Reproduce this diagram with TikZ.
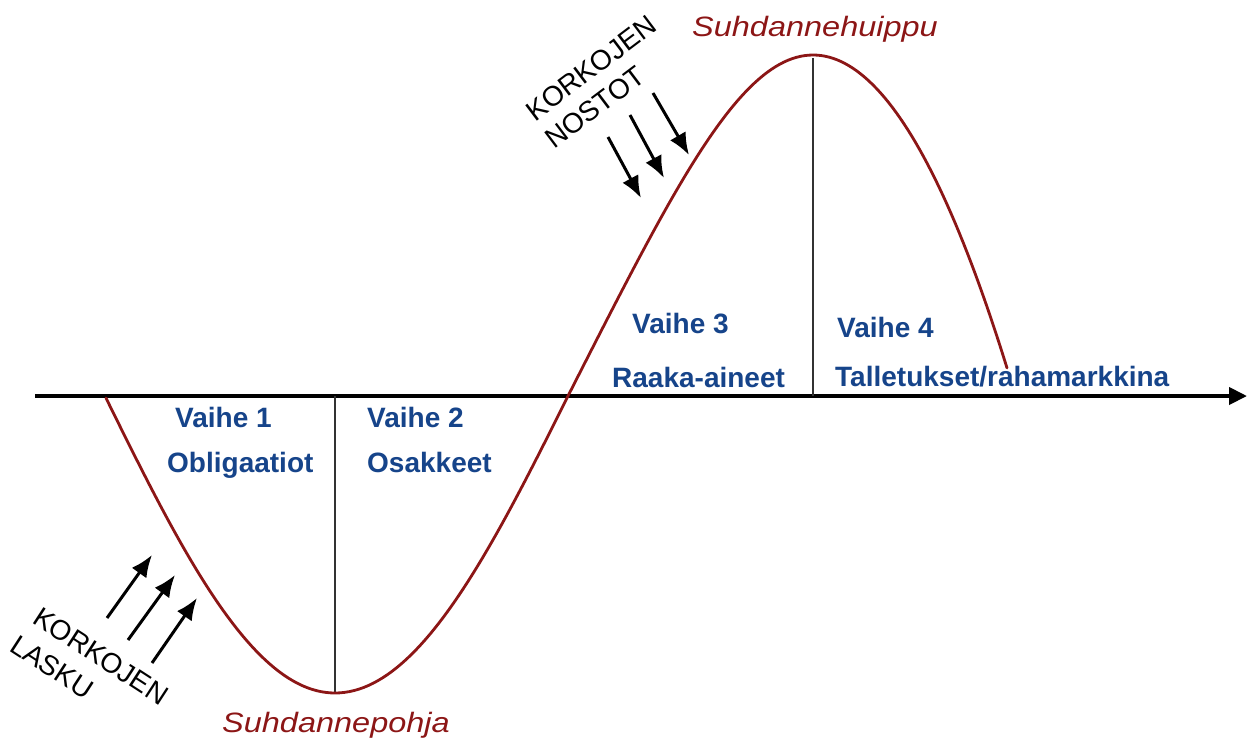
\documentclass[tikz,border=0pt]{standalone}
\usepackage{fontspec}
\setmainfont{Liberation Sans}
\usetikzlibrary{arrows.meta}
\definecolor{cyclered}{RGB}{140,22,22}
\definecolor{phaseblue}{RGB}{22,68,138}
\tikzset{
  curveline/.style={draw=cyclered, line width=2.8pt, line join=round, line cap=round},
  axisline/.style={draw=black, line width=4pt, -{Triangle[length=18pt,width=17pt]}},
  divider/.style={draw=black!80, line width=1.5pt},
  ratearrow/.style={draw=black, line width=3pt, -{Latex[length=22pt,width=18pt]}},
  phasetext/.style={anchor=base west, inner sep=0pt, text=phaseblue, font=\fontsize{28}{30}\selectfont\bfseries},
  peaktext/.style={anchor=base, inner sep=0pt, text=cyclered, font=\fontsize{28}{30}\selectfont\itshape},
  ratetext/.style={inner sep=0pt, text=black, font=\fontsize{28}{30}\selectfont},
}
\begin{document}
\begin{tikzpicture}[x=1pt,y=-1pt]
\useasboundingbox (0,0) rectangle (1249,740);
% axis
\coordinate (axL) at (35,396);
\coordinate (axR) at (1247,396);
\draw[axisline] (axL) -- (axR);
% dividers
\coordinate (botTop) at (335,396);
\coordinate (botBot) at (335,693);
\coordinate (topTop) at (813,58);
\coordinate (topBot) at (813,396);
\draw[divider] (botTop) -- (botBot);
\draw[divider] (topTop) -- (topBot);
% cycle curve
\draw[curveline]
  plot[domain=106:335, samples=50] (\x, {396 + 297*sin(0.391304*(\x-105))})
  -- plot[domain=335:568, samples=50] (\x, {396 + 297*cos(0.386266*(\x-335))})
  -- plot[domain=568:813, samples=60] (\x, {396 - 341*(sin(0.367347*(\x-568)) - 0.1*sin(0.367347*(\x-568))*cos(0.367347*(\x-568))*cos(0.367347*(\x-568)))})
  -- plot[domain=813:1007, samples=50] (\x, {55 + 313*((\x-813)/194)*((\x-813)/194)});
% peak / trough labels
\node[peaktext] (huippu) at (815,36) {\scalebox{1.16}[1]{Suhdannehuippu}};
\node[peaktext] (pohja) at (336,732) {\scalebox{1.16}[1]{Suhdannepohja}};
% phase labels
\node[phasetext] (v1) at (175,427) {Vaihe 1};
\node[phasetext] (p1) at (167,472) {Obligaatiot};
\node[phasetext] (v2) at (367,427) {Vaihe 2};
\node[phasetext] (p2) at (367,472) {Osakkeet};
\node[phasetext] (v3) at (632,333) {Vaihe 3};
\node[phasetext] (p3) at (612,387) {Raaka-aineet};
\node[phasetext] (v4) at (837,337) {Vaihe 4};
\node[phasetext] (p4) at (835,386) {Talletukset/rahamarkkina};
% interest rate texts
\node[ratetext, rotate=37] (korkUp) at (591,68) {KORKOJEN};
\node[ratetext, rotate=37] (nostot) at (595,107) {NOSTOT};
\node[ratetext, rotate=-33] (korkDn) at (101,656) {KORKOJEN};
\node[ratetext, rotate=-33] (lasku) at (52,667) {LASKU};
% rate hike arrows
\coordinate (u1s) at (608,137); \coordinate (u1e) at (641,198);
\coordinate (u2s) at (630,115); \coordinate (u2e) at (664,178);
\coordinate (u3s) at (653,93);  \coordinate (u3e) at (689,155);
\draw[ratearrow] (u1s) -- (u1e);
\draw[ratearrow] (u2s) -- (u2e);
\draw[ratearrow] (u3s) -- (u3e);
% rate cut arrows
\coordinate (d1s) at (107,618); \coordinate (d1e) at (152,555);
\coordinate (d2s) at (128,640); \coordinate (d2e) at (175,575);
\coordinate (d3s) at (152,663); \coordinate (d3e) at (197,598);
\draw[ratearrow] (d1s) -- (d1e);
\draw[ratearrow] (d2s) -- (d2e);
\draw[ratearrow] (d3s) -- (d3e);
\end{tikzpicture}
\end{document}
